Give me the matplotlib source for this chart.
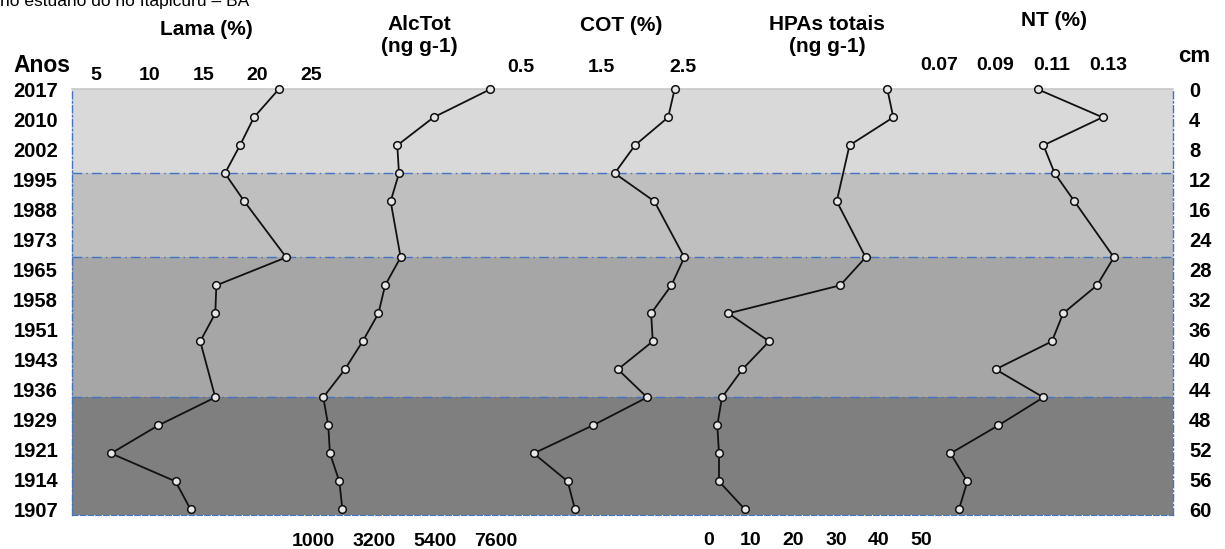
import numpy as np
import matplotlib
matplotlib.use("Agg")
import matplotlib.pyplot as plt

plt.rcParams['font.family'] = ['Liberation Sans', 'DejaVu Sans']

# profundidade das amostras (cm) e anos
depths = [0, 4, 8, 12, 16, 24, 28, 32, 36, 40, 44, 48, 52, 56, 60]
years = ['2017', '2010', '2002', '1995', '1988', '1973', '1965', '1958',
         '1951', '1943', '1936', '1929', '1921', '1914', '1907']
cm_labels = ['0', '4', '8', '12', '16', '24', '28', '32', '36', '40',
             '44', '48', '52', '56', '60']

lama = [22.0, 19.7, 18.4, 17.0, 18.8, 22.7, 16.2, 16.1, 14.7, None,
        16.1, 10.8, 6.4, 12.4, 13.8]
alctot = [7390, 5350, 4040, 4100, 3800, 4160, 3600, 3360, 2790, 2150,
          1370, 1550, 1610, 1950, 2060]
cot = [2.40, 2.32, 1.91, 1.66, 2.15, 2.52, 2.36, 2.11, 2.13, 1.70,
       2.06, 1.39, 0.66, 1.08, 1.17]
hpas = [42.1, 43.5, 33.2, None, 30.2, 37.0, 31.0, 4.7, 14.3, 8.0,
        3.2, 2.1, 2.5, 2.5, 8.6]
nt = [0.105, 0.128, 0.107, 0.111, 0.118, 0.132, 0.126, 0.114, 0.110,
      0.090, 0.107, 0.091, 0.074, 0.080, 0.077]

lama_ticks = [5, 10, 15, 20, 25]
alctot_ticks = [1000, 3200, 5400, 7600]
cot_ticks = [0.5, 1.5, 2.5]
hpas_ticks = [0, 10, 20, 30, 40, 50]
nt_ticks = [0.07, 0.09, 0.11, 0.13]

# zonas (cm)
zones = [(0, 12, '#d9d9d9'), (12, 24, '#bfbfbf'), (24, 44, '#a6a6a6'), (44, 60.8, '#7f7f7f')]
zone_lines = [12, 24, 44]

W, H = 1225, 549
fig = plt.figure(figsize=(W / 100, H / 100), dpi=100)
ax = fig.add_axes([72 / W, 1 - 515 / H, (1173 - 72) / W, (515 - 89.3) / H])
ax.set_ylim(60.8, 0)
ax.set_xlim(0, 1)
ax.set_xticks([])

for top, bot, c in zones:
    ax.axhspan(top, bot, color=c, lw=0, zorder=0)
for d in zone_lines:
    ax.axhline(d, color='#4472c4', lw=1, ls=(0, (7, 3, 1, 3)), zorder=1)

blue = '#4472c4'
for s in ['left', 'right']:
    ax.spines[s].set_color(blue)
    ax.spines[s].set_linestyle((0, (5, 2, 1, 2)))
    ax.spines[s].set_linewidth(1)
ax.spines['bottom'].set_color(blue)
ax.spines['bottom'].set_linestyle((0, (5, 2)))
ax.spines['top'].set_color('#c8c8c8')
ax.spines['top'].set_linewidth(1.2)

ypos = np.linspace(0, 60, len(years))
ax.set_yticks(ypos)
ax.set_yticklabels(years, fontsize=14.5, fontweight='bold')
ax.tick_params(axis='y', length=0, pad=10)

axr = ax.twinx()
axr.set_ylim(ax.get_ylim())
axr.set_yticks(ypos)
axr.set_yticklabels(cm_labels, fontsize=14.5, fontweight='bold', ha='left')
axr.tick_params(axis='y', length=0, pad=11.5)
for s in axr.spines.values():
    s.set_visible(False)

series = [
    (lama, lama_ticks, (2.77, 105.2), 'top', 3.8),
    (alctot, alctot_ticks, (-7692, 32016), 'bottom', 13),
    (cot, cot_ticks, (-5.04, 8.553), 'top', 9.6),
    (hpas, hpas_ticks, (-149.7, 109.3), 'bottom', 12.2),
    (nt, nt_ticks, (-0.2379, 0.1530), 'top', 11),
]

for vals, ticks, lim, side, pad in series:
    a = ax.twiny()
    a.set_xlim(*lim)
    x = [v for v in vals if v is not None]
    y = [d for v, d in zip(vals, depths) if v is not None]
    a.plot(x, y, color='#111111', lw=1.3, marker='o', ms=5.5,
           mfc='#e6e6e6', mec='#111111', mew=1.1, clip_on=False, zorder=3)
    a.set_xticks(ticks)
    a.set_xticklabels([str(t) for t in ticks], fontsize=14, fontweight='bold')
    a.xaxis.set_ticks_position(side)
    a.xaxis.set_label_position(side)
    a.tick_params(axis='x', length=0, pad=pad)
    for s in a.spines.values():
        s.set_visible(False)

def ftext(x, y, s, ha='center', size=15):
    fig.text(x / W, 1 - y / H, s, ha=ha, va='baseline', fontsize=size,
             fontweight='bold')

ftext(206, 35, 'Lama (%)')
ftext(419, 30, 'AlcTot')
ftext(419, 52, '(ng g-1)')
ftext(621, 31, 'COT (%)')
ftext(827, 30, 'HPAs totais')
ftext(827, 52, '(ng g-1)')
ftext(1054, 26, 'NT (%)')
ftext(13, 72, 'Anos', ha='left', size=16.5)
ftext(1178, 62, 'cm', ha='left', size=16)

fig.text(0, 1 - 6 / H, 'no estuário do rio Itapicuru – BA', ha='left',
         va='baseline', fontsize=12.5)

fig.savefig('out.png', dpi=100)
